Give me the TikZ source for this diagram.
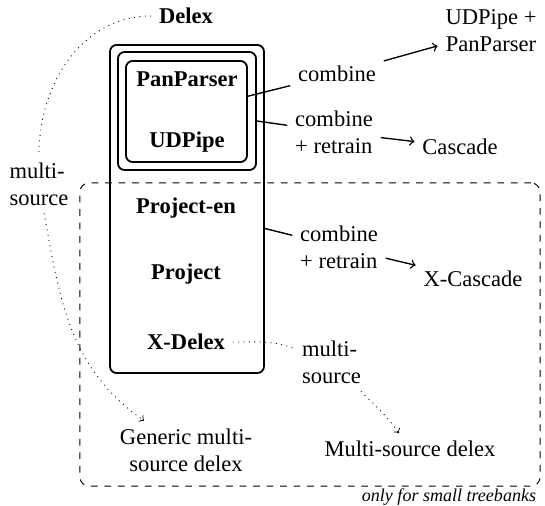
\documentclass[tikz,border=0pt]{standalone}
\usepackage{fontspec}
\setmainfont{Liberation Serif}
\begin{document}
\begin{tikzpicture}[x=0.0156cm,y=0.0156cm]

\tikzstyle{box} = [draw,thick,rounded corners=3pt,inner sep=0]
\tikzstyle{method} = [font=\bfseries]
\tikzstyle{conn} = [semithick]
\tikzstyle{ms} = [dotted]

\useasboundingbox (0,0) rectangle (545,-506);

\node [draw,dashed,rounded corners=4pt,minimum width=7.176cm,minimum height=4.727cm] (small) at (310,-334.5) {};
\node [anchor=east,font=\footnotesize\itshape] (note) at (544,-497) {only for small treebanks};

\node [box,minimum width=2.402cm,minimum height=5.117cm] (outer) at (187,-209) {};
\node [box,minimum width=2.153cm,minimum height=1.841cm] (middle) at (187,-111) {};
\node [box,minimum width=1.888cm,minimum height=1.576cm] (inner) at (186.5,-111.5) {};

\node [method] (delex) at (186,-16) {Delex};
\node [method] (pan) at (187,-79) {PanParser};
\node [method] (udp) at (187,-142) {UDPipe};
\node [method] (projen) at (186,-208) {Project-en};
\node [method] (proj) at (186,-274) {Project};
\node [method] (xdel) at (186,-342) {X-Delex};

\node (comb1) at (337,-74) {combine};
\node [align=center] (udpp) at (491,-31) {UDPipe +\\PanParser};
\node [align=left] (comb2) at (334,-132) {combine\\+ retrain};
\node (casc) at (460,-147) {Cascade};
\node [align=left] (comb3) at (339,-247) {combine\\+ retrain};
\node (xcasc) at (473,-279) {X-Cascade};

\node [align=left] (ms1) at (39,-184) {multi-\\source};
\node [align=center] (gen) at (186,-450) {Generic multi-\\source delex};
\node [align=left] (ms2) at (331.5,-362) {multi-\\source};
\node (msd) at (410,-449) {Multi-source delex};

\draw [conn] (inner) -- (comb1);
\draw [conn,->] (comb1) -- (udpp);
\draw [conn] (middle) -- (comb2);
\draw [conn,->] (comb2) -- (casc);
\draw [conn] (outer) -- (comb3);
\draw [conn,->] (comb3) -- (xcasc);

\draw [ms] (delex) to[out=180,in=90] (ms1);
\draw [ms,->] (ms1) to[out=-80,in=145] (gen);
\draw [ms] (xdel) to[out=0,in=160] (ms2);
\draw [ms,->] (ms2) to[out=-45,in=125] (msd);
\end{tikzpicture}
\end{document}
